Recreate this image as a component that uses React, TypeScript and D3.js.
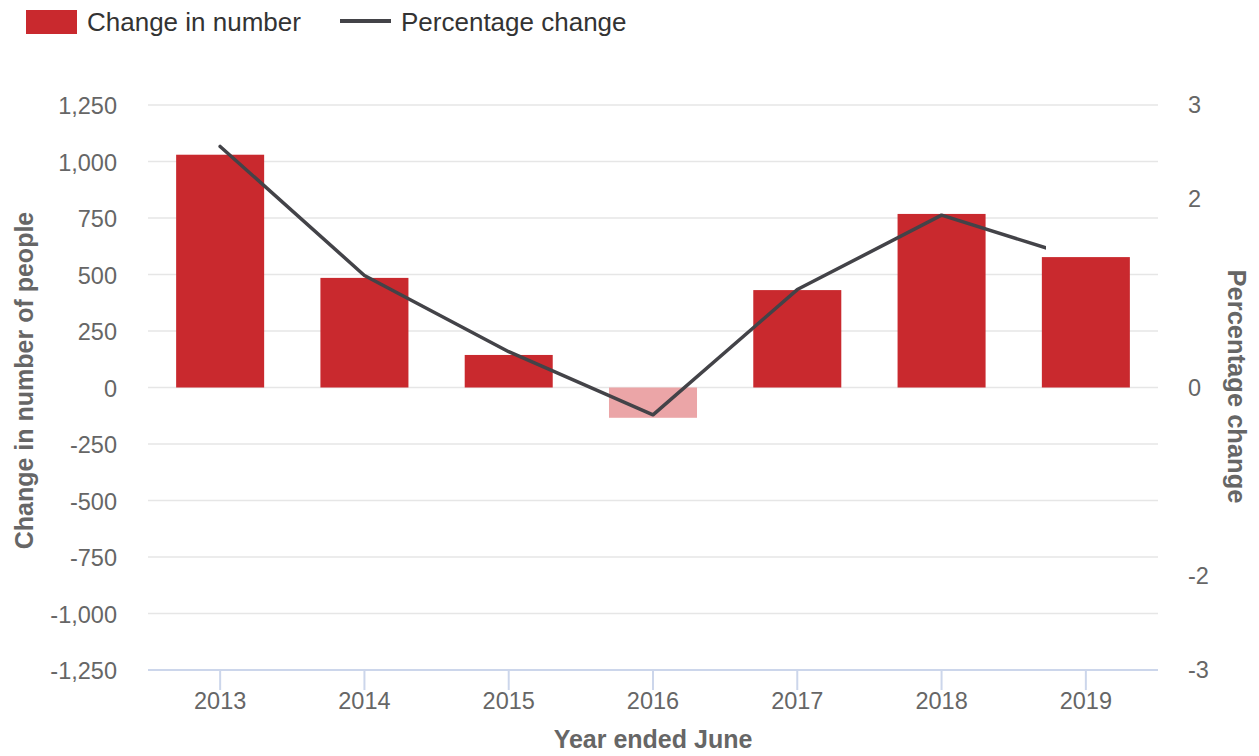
import React from "react";
import * as d3 from "d3";

const years = ["2013", "2014", "2015", "2016", "2017", "2018", "2019"];
const changeInNumber = [1030, 485, 144, -134, 431, 768, 577];
const percentageChange = [2.56, 1.19, 0.38, -0.29, 1.04, 1.83, 1.35];
const leftTicks = [1250, 1000, 750, 500, 250, 0, -250, -500, -750, -1000, -1250];
const rightTicks = [3, 2, 0, -2, -3];

const W = 1259;
const H = 756;
const M = { left: 148, right: 1158, top: 105, bottom: 670 };
const FONT = "'Liberation Sans', Arial, sans-serif";
const RED = "#c9292e";
const PINK = "#eba5a7";
const LINE = "#434348";
const LINE_REVEAL = 0.889; // line series drawn partially (as in reference)

export default function App() {
  const x = d3
    .scaleBand<string>()
    .domain(years)
    .range([M.left, M.right])
    .paddingInner(0.39)
    .paddingOuter(0.195);
  const yL = d3.scaleLinear().domain([-1250, 1250]).range([M.bottom, M.top]);
  const yR = d3.scaleLinear().domain([-3, 3]).range([M.bottom, M.top]);
  const cx = (d: string) => (x(d) as number) + x.bandwidth() / 2;
  const fmt = (v: number) => d3.format(",")(v).replace("\u2212", "-");

  const line = d3
    .line<number>()
    .x((_, i) => cx(years[i]))
    .y((v) => yR(v));

  const midY = (M.top + M.bottom) / 2;

  return (
    <svg width={W} height={H} style={{ position: "absolute", left: 0, top: 0 }} fontFamily={FONT}>
      <defs>
        <clipPath id="lineclip">
          <rect x={M.left} y={0} width={(M.right - M.left) * LINE_REVEAL} height={H} />
        </clipPath>
      </defs>
      {/* legend */}
      <rect x={26} y={10} width={51} height={24} fill={RED} />
      <text x={87} y={31} fontSize={26} fill="#333">Change in number</text>
      <line x1={340} x2={391} y1={21} y2={21} stroke={LINE} strokeWidth={4} />
      <text x={401} y={31} fontSize={26} fill="#333">Percentage change</text>

      {/* gridlines */}
      {leftTicks.slice(0, -1).map((t) => (
        <line key={t} x1={M.left} x2={M.right} y1={yL(t)} y2={yL(t)} stroke="#e6e6e6" strokeWidth={1.5} />
      ))}
      {/* left labels */}
      {leftTicks.map((t) => (
        <text key={t} x={117} y={yL(t) + 9} textAnchor="end" fontSize={23.5} fill="#666">
          {fmt(t)}
        </text>
      ))}
      {/* right labels */}
      {rightTicks.map((t) => (
        <text key={t} x={1188} y={yR(t) + 8} textAnchor="start" fontSize={23.5} fill="#666">
          {fmt(t)}
        </text>
      ))}

      {/* bars */}
      {changeInNumber.map((v, i) => (
        <rect
          key={years[i]}
          x={x(years[i])}
          width={x.bandwidth()}
          y={yL(Math.max(0, v))}
          height={Math.abs(yL(v) - yL(0))}
          fill={v < 0 ? PINK : RED}
        />
      ))}

      {/* line */}
      <path
        d={line(percentageChange) || ""}
        fill="none"
        stroke={LINE}
        strokeWidth={3.5}
        strokeLinejoin="round"
        strokeLinecap="round"
        clipPath="url(#lineclip)"
      />

      {/* x axis */}
      <line x1={M.left} x2={M.right} y1={M.bottom} y2={M.bottom} stroke="#ccd6eb" strokeWidth={2} />
      {years.map((y) => (
        <g key={y}>
          <line x1={cx(y)} x2={cx(y)} y1={M.bottom} y2={M.bottom + 20} stroke="#ccd6eb" strokeWidth={2} />
          <text x={cx(y)} y={709} textAnchor="middle" fontSize={23.5} fill="#666">
            {y}
          </text>
        </g>
      ))}

      {/* axis titles */}
      <text x={(M.left + M.right) / 2} y={748} textAnchor="middle" fontSize={25} fontWeight="bold" fill="#666">
        Year ended June
      </text>
      <text
        transform={`translate(33, ${midY - 7}) rotate(-90)`}
        textAnchor="middle"
        fontSize={25}
        fontWeight="bold"
        fill="#666"
      >
        Change in number of people
      </text>
      <text
        transform={`translate(1228, ${midY - 1}) rotate(90)`}
        textAnchor="middle"
        fontSize={25.5}
        fontWeight="bold"
        fill="#666"
      >
        Percentage change
      </text>
    </svg>
  );
}
